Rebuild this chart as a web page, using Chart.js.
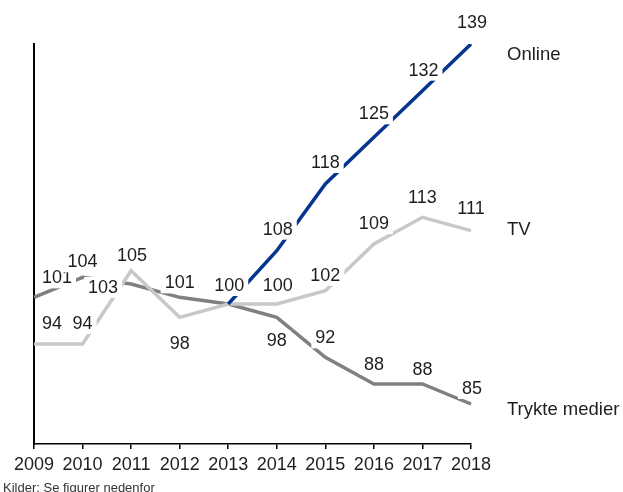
<!DOCTYPE html>
<html>
<head>
<meta charset="utf-8">
<script src="https://cdn.jsdelivr.net/npm/chart.js@4/dist/chart.umd.min.js"></script>
<style>
  html, body { margin: 0; padding: 0; background: #fff; }
  #mediaChart { display: block; }
</style>
</head>
<body>
<canvas id="mediaChart" width="623" height="492"></canvas>
<script>
/* Mediebruk, indeks 2009-2018 */
var years = ["2009", "2010", "2011", "2012", "2013", "2014", "2015", "2016", "2017", "2018"];
var online = [null, null, null, null, 100, 108, 118, 125, 132, 139];
var tv = [94, 94, 105, 98, 100, 100, 102, 109, 113, 111];
var trykte = [101, 104, 103, 101, 100, 98, 92, 88, 88, 85];
var seriesNames = ["Online", "TV", "Trykte medier"];
var yMin = 79, yMax = 139;
var kilde = "Kilder: Se figurer nedenfor";

// plassering av verdietiketter [dx, dy] i forhold til punktet, null = skjult
var labelOffsets = [
  [null, null, null, null, [1, -19], [1, -22], [0, -22], [0, -24], [1, -21], [1, -22]],
  [[18, -21], [0, -21], [1, -16], [0, 26], null, [1, -19], [0, -16], [0, -21], [0, -20], [0, -23]],
  [[23, -20], [0, -16], [-28, 3], [0, -15], null, [0, 23], [0, -20], [0, -20], [0, -15], [1, -16]]
];
// plassering av serienavn i forhold til siste punkt
var nameOffsets = [[36, 11], [36, -1], [36, 6]];

var fontFamily = "'Liberation Sans', Arial, Helvetica, sans-serif";
Chart.defaults.font.family = fontFamily;

var etiketter = {
  id: "etiketter",
  afterDatasetsDraw: function(chart) {
    var c = chart.ctx;
    c.save();
    c.textBaseline = "middle";
    chart.data.datasets.forEach(function(ds, d) {
      var meta = chart.getDatasetMeta(d);
      c.font = "18px " + fontFamily;
      c.textAlign = "center";
      meta.data.forEach(function(pt, i) {
        var off = labelOffsets[d][i];
        if (ds.data[i] == null || !off) return;
        var txt = String(ds.data[i]);
        var x = pt.x + off[0], y = pt.y + off[1];
        var w = c.measureText(txt).width;
        c.fillStyle = "#fff";
        c.fillRect(x - w / 2 - 4, y - 10, w + 8, 21);
        c.fillStyle = "#1e1e1e";
        c.fillText(txt, x, y + 1);
      });
      // serienavn til høyre
      var last = meta.data[meta.data.length - 1];
      c.font = "18.5px " + fontFamily;
      c.textAlign = "left";
      c.fillStyle = "#1e1e1e";
      c.fillText(seriesNames[d], last.x + nameOffsets[d][0], last.y + nameOffsets[d][1]);
    });
    // kildehenvisning
    c.font = "13px " + fontFamily;
    c.textAlign = "left";
    c.fillStyle = "#333";
    c.fillText(kilde, 3, 488);
    c.restore();
  }
};

var ctx = document.getElementById("mediaChart").getContext("2d");

new Chart(ctx, {
  type: "line",
  data: {
    labels: years,
    datasets: [{
        label: seriesNames[0],
        data: online,
        borderColor: "#05358f",
        borderWidth: 3.5,
        pointRadius: 0,
        tension: 0,
        fill: false
      }, {
        label: seriesNames[1],
        data: tv,
        borderColor: "#c8c8c8",
        borderWidth: 3.5,
        pointRadius: 0,
        tension: 0,
        fill: false
      }, {
        label: seriesNames[2],
        data: trykte,
        borderColor: "#808080",
        borderWidth: 3.5,
        pointRadius: 0,
        tension: 0,
        fill: false
      },
    ],
  },
  options: {
    responsive: false,
    animation: false,
    layout: {
      padding: { left: 34, right: 152, top: 44, bottom: 0 }
    },
    plugins: {
      legend: { display: false },
      tooltip: { enabled: false }
    },
    scales: {
      x: {
        offset: false,
        afterFit: function(scale) { scale.height = 48; },
        grid: {
          display: true,
          drawOnChartArea: false,
          drawTicks: true,
          tickLength: 5,
          color: "#000",
          lineWidth: 1.5
        },
        border: { display: true, color: "#000", width: 1.5 },
        ticks: {
          color: "#1e1e1e",
          padding: 5,
          maxRotation: 0,
          autoSkip: false,
          font: { size: 18 }
        }
      },
      y: {
        min: yMin,
        max: yMax,
        afterFit: function(scale) { scale.width = 0; },
        grid: { display: false, drawTicks: false },
        border: { display: true, color: "#000", width: 2 },
        ticks: { display: false }
      }
    }
  },
  plugins: [etiketter]
});
</script>
</body>
</html>
